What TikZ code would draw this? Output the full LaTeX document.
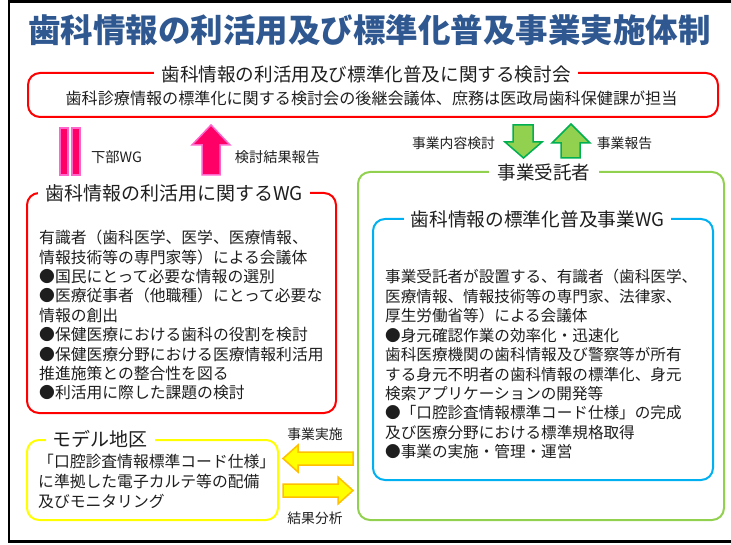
\documentclass[tikz,border=0pt]{standalone}
\usepackage{fontspec}
\setmainfont{Noto Sans CJK JP}
\definecolor{titleblue}{RGB}{47,88,145}
\definecolor{txt}{RGB}{30,30,30}
\definecolor{boxred}{RGB}{255,0,0}
\definecolor{boxgreen}{RGB}{146,208,80}
\definecolor{boxblue}{RGB}{0,176,240}
\definecolor{boxyellow}{RGB}{255,255,0}
\definecolor{pinkfill}{RGB}{255,0,102}
\definecolor{pinkedge}{RGB}{255,102,204}
\definecolor{greenedge}{RGB}{0,176,80}
\definecolor{yellowedge}{RGB}{255,192,0}
\newcommand{\fs}[2]{\fontsize{#1}{#2}\selectfont}
\begin{document}
\begin{tikzpicture}[x=1pt,y=-1pt,
  panel/.style={draw=#1, line width=2pt, rounded corners=12pt, inner sep=0pt, fill=none},
  lbl/.style={fill=white, inner xsep=7pt, inner ysep=1pt, text=txt},
  body/.style={anchor=north west, align=left, inner sep=0pt, text=txt},
  small/.style={inner sep=0pt, text=txt, font=\fs{13.8}{16}},
  pinkarrow/.style={fill=pinkfill, draw=pinkedge, line width=1.5pt, line join=miter},
  greenarrow/.style={fill=boxgreen, draw=greenedge, line width=1.5pt, line join=miter},
  yellowarrow/.style={fill=boxyellow, draw=yellowedge, line width=1.5pt, line join=miter}]
\path[use as bounding box] (0,0) rectangle (731,545);
\begin{scope}
\clip (0,0) rectangle (731,545);
\draw[line width=2.6pt] (9,1.3) rectangle (770,541.5);
\end{scope}

% title
\node[inner sep=0pt, text=titleblue, font=\fs{32.5}{36}\bfseries] (title) at (369.5,30) {歯科情報の利活用及び標準化普及事業実施体制};

% top committee box
\node[panel=boxred, minimum width=690pt, minimum height=44pt] (top) at (373,95) {};
\node[lbl, font=\fs{18.6}{22}] (toplbl) at (366,74) {歯科情報の利活用及び標準化普及に関する検討会};
\node[inner sep=0pt, text=txt, font=\fs{16.1}{19}] (topline) at (371.5,98) {歯科診療情報の標準化に関する検討会の後継会議体、庶務は医政局歯科保健課が担当};

% pink marks
\filldraw[pinkarrow] (60,128) rectangle (68,175);
\filldraw[pinkarrow] (72,128) rectangle (80,175);
\node[small, font=\fs{14.3}{16}] (kabu) at (116.5,157) {下部WG};
\filldraw[pinkarrow] (202,175) -- (202,145) -- (192,145) -- (211,125) -- (230,145) -- (220,145) -- (220,175) -- cycle;
\node[small, font=\fs{14.2}{16}] (kekka) at (277.5,157) {検討結果報告};

% green arrows
\filldraw[greenarrow] (513,125) -- (533,125) -- (533,142) -- (542,142) -- (523.5,158) -- (505,142) -- (513,142) -- cycle;
\filldraw[greenarrow] (561,158) -- (561,143) -- (552,143) -- (571,124) -- (590,143) -- (580,143) -- (580,158) -- cycle;
\node[small] (naiyou) at (453.5,143) {事業内容検討};
\node[small] (houkoku) at (624.5,143) {事業報告};

% WG on utilization
\node[panel=boxred, minimum width=309pt, minimum height=220pt] (wg1) at (181.5,303) {};
\node[lbl, font=\fs{19}{22}] (wg1lbl) at (174,193) {歯科情報の利活用に関するWG};
\node[body, font=\fs{15.8}{19.4}] (wg1txt) at (39,230) {有識者（歯科医学、医学、医療情報、\\
情報技術等の専門家等）による会議体\\
●国民にとって必要な情報の選別\\
●医療従事者（他職種）にとって必要な\\
情報の創出\\
●保健医療における歯科の役割を検討\\
●保健医療分野における医療情報利活用\\
推進施策との整合性を図る\\
●利活用に際した課題の検討};

% contractor
\node[panel=boxgreen, minimum width=366pt, minimum height=348pt] (contr) at (541,346) {};
\node[lbl, font=\fs{18.5}{22}, inner xsep=9pt] (contrlbl) at (544,172) {事業受託者};

% standardization WG
\node[panel=boxblue, minimum width=340pt, minimum height=261pt] (wg2) at (543,349.5) {};
\node[lbl, font=\fs{18.7}{22}] (wg2lbl) at (537.5,219) {歯科情報の標準化普及事業WG};
\node[body, font=\fs{15.6}{19.45}] (wg2txt) at (385,269.2) {事業受託者が設置する、有識者（歯科医学、\\
医療情報、情報技術等の専門家、法律家、\\
厚生労働省等）による会議体\\
●身元確認作業の効率化・迅速化\\
歯科医療機関の歯科情報及び警察等が所有\\
する身元不明者の歯科情報の標準化、身元\\
検索アプリケーションの開発等\\
●「口腔診査情報標準コード仕様」の完成\\
及び医療分野における標準規格取得\\
●事業の実施・管理・運営};

% model district
\node[panel=boxyellow, minimum width=251pt, minimum height=80pt] (model) at (152.5,480) {};
\node[lbl, font=\fs{19}{22}] (modellbl) at (100,439) {モデル地区};
\node[body, font=\fs{15.8}{20}] (modeltxt) at (38,454) {「口腔診査情報標準コード仕様」\\
に準拠した電子カルテ等の配備\\
及びモニタリング};

% yellow arrows
\filldraw[yellowarrow] (283,458.5) -- (298,445) -- (298,452) -- (353,452) -- (353,465) -- (298,465) -- (298,472) -- cycle;
\filldraw[yellowarrow] (353,490.5) -- (338,477) -- (338,484) -- (283,484) -- (283,497) -- (338,497) -- (338,504) -- cycle;
\node[small] (jisshi) at (315,434) {事業実施};
\node[small] (bunseki) at (315,518) {結果分析};
\end{tikzpicture}
\end{document}
